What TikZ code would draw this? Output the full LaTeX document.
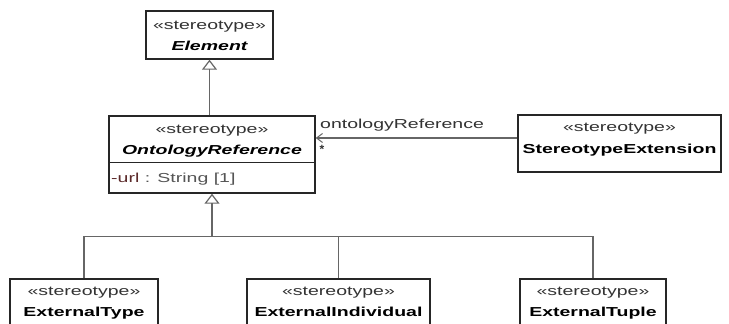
\documentclass[tikz,border=0pt]{standalone}
\usepackage{fontspec}
\setmainfont{Liberation Sans}
\usepackage{graphicx}
\usetikzlibrary{arrows.meta,calc}
\newcommand{\sx}[1]{\scalebox{1.5}[1]{#1}}
\definecolor{urlred}{HTML}{5C2A2A}
\definecolor{urlgray}{HTML}{555555}
\begin{document}
\begin{tikzpicture}[x=1pt,y=-1pt,
 box/.style={draw=black!85, line width=1.4pt, inner sep=0pt, fill=white},
 txt/.style={anchor=base, inner sep=0pt, font=\fontsize{13}{15}\selectfont},
 ster/.style={txt, text=black!80},
 nm/.style={txt, text=black, font=\fontsize{13}{15}\selectfont\bfseries},
 nmi/.style={txt, text=black, font=\fontsize{13}{15}\selectfont\bfseries\itshape},
 conn/.style={draw=black!60, line width=1.2pt},
 gen/.style={conn, -{Triangle[open, length=10pt, width=15pt, line width=1.2pt]}},
 assoc/.style={conn, -{Straight Barb[length=6pt, width=9pt, line width=1pt]}}]
\useasboundingbox (0,0) rectangle (729,324);
\clip (0,0) rectangle (729,324);
\fill[white] (0,0) rectangle (729,324);
% boxes
\node[box, minimum width=127pt, minimum height=48pt] (el) at (209.5,35) {};
\node[box, minimum width=206pt, minimum height=77pt] (or) at (212,154.5) {};
\node[box, minimum width=203pt, minimum height=57pt] (se) at (619.5,143.5) {};
\node[box, minimum width=148pt, minimum height=81pt] (et) at (84,319.5) {};
\node[box, minimum width=183pt, minimum height=81pt] (ei) at (338.5,319.5) {};
\node[box, minimum width=146pt, minimum height=81pt] (etp) at (593,319.5) {};
\draw[draw=black!85, line width=1pt] ($(or.north west)+(0,47)$) -- ($(or.north east)+(0,47)$);
% texts
\node[ster] (elS) at (209.5,29) {\sx{«stereotype»}};
\node[nmi] (elN) at (209.5,50) {\sx{Element}};
\node[ster] (orS) at (212,133) {\sx{«stereotype»}};
\node[nmi] (orN) at (212,154) {\sx{OntologyReference}};
\node[txt, anchor=base west] (url) at (111,182) {\sx{\textcolor{urlred}{-url}\textcolor{urlgray}{\ : String [1]}}};
\node[ster] (seS) at (619.5,131) {\sx{«stereotype»}};
\node[nm] (seN) at (619.5,153.5) {\sx{StereotypeExtension}};
\node[ster] (etS) at (84,295) {\sx{«stereotype»}};
\node[nm] (etN) at (84,316.5) {\sx{ExternalType}};
\node[ster] (eiS) at (338.5,295) {\sx{«stereotype»}};
\node[nm] (eiN) at (338.5,316.5) {\sx{ExternalIndividual}};
\node[ster] (etpS) at (593,295) {\sx{«stereotype»}};
\node[nm] (etpN) at (593,316.5) {\sx{ExternalTuple}};
% association
\coordinate (aS) at ($(se.west)+(0,-5.5)$);
\draw[assoc] (aS) -- (aS -| or.east);
\node[txt, anchor=base west, text=black!80] (lbl) at (320,128) {\sx{ontologyReference}};
\node[txt, text=black!80, font=\fontsize{12}{14}\selectfont\bfseries] (star) at (322,153) {*};
% generalizations
\draw[gen] (el.south |- or.north) -- (el.south);
\coordinate (bus) at ($(or.south)+(0,43)$);
\draw[conn] (et.north) |- (bus);
\draw[conn] (etp.north) |- (bus);
\draw[conn] (ei.north) -- (ei.north |- bus);
\draw[gen] (bus) -- (or.south);
\end{tikzpicture}
\end{document}
